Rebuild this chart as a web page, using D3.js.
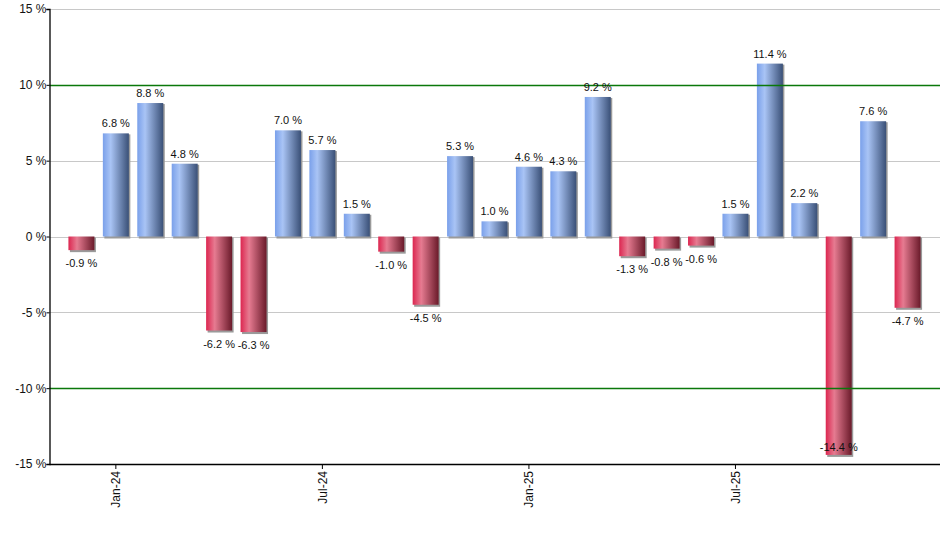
<!DOCTYPE html>
<html>
<head>
<meta charset="utf-8">
<script src="https://cdn.jsdelivr.net/npm/d3@7"></script>
<style>
  body { margin: 0; background: #fff; }
  svg { display: block; font-family: "Liberation Sans", Arial, sans-serif; }
</style>
</head>
<body>
<svg width="940" height="550"></svg>
<script>
// monthly returns, Dec-23 .. Dec-25
const months = ["Dec-23","Jan-24","Feb-24","Mar-24","Apr-24","May-24","Jun-24","Jul-24","Aug-24","Sep-24","Oct-24","Nov-24","Dec-24",
                "Jan-25","Feb-25","Mar-25","Apr-25","May-25","Jun-25","Jul-25","Aug-25","Sep-25","Oct-25","Nov-25","Dec-25"];
const returns = [-0.9, 6.8, 8.8, 4.8, -6.2, -6.3, 7.0, 5.7, 1.5, -1.0, -4.5, 5.3, 1.0,
                 4.6, 4.3, 9.2, -1.3, -0.8, -0.6, 1.5, 11.4, 2.2, -14.4, 7.6, -4.7];
const tickMonths = ["Jan-24", "Jul-24", "Jan-25", "Jul-25"];
const yTicks = [-15, -10, -5, 0, 5, 10, 15];
const refLines = [10, -10];

const data = months.map((m, i) => ({month: m, value: returns[i]}));

const plotLeft = 49.5, plotRight = 940, plotTop = 9, plotBottom = 464;

const svg = d3.select("svg");

const defs = svg.append("defs");
const posGrad = defs.append("linearGradient").attr("id", "gradPos")
posGrad.append("stop").attr("offset", "0%").attr("stop-color", "#7aa0ea")
posGrad.append("stop").attr("offset", "30%").attr("stop-color", "#a9c4f5")
posGrad.append("stop").attr("offset", "100%").attr("stop-color", "#3a5077")
const negGrad = defs.append("linearGradient").attr("id", "gradNeg")
negGrad.append("stop").attr("offset", "0%").attr("stop-color", "#dc2650")
negGrad.append("stop").attr("offset", "33%").attr("stop-color", "#e67b91")
negGrad.append("stop").attr("offset", "100%").attr("stop-color", "#6a1a2a")

const x = d3.scaleBand()
  .domain(months)
  .range([64.3, 924.7])
  .paddingInner(0.245)
  .paddingOuter(0.12)

const y = d3.scaleLinear()
  .domain([-15, 15])
  .range([plotBottom, plotTop])

// grid lines
svg.append("g")
  .selectAll("line")
  .data(yTicks.filter(d => !refLines.includes(d) && d !== -15))
  .join("line")
  .attr("x1", plotLeft).attr("x2", plotRight)
  .attr("y1", d => Math.round(y(d)) + 0.5).attr("y2", d => Math.round(y(d)) + 0.5)
  .attr("stroke", "#c8c8c8")
  .attr("stroke-width", 1)

// bar shadows
svg.append("g")
  .selectAll("rect")
  .data(data)
  .join("rect")
  .attr("x", d => x(d.month) + 1.5)
  .attr("y", d => Math.min(y(d.value), y(0)) + 1)
  .attr("width", x.bandwidth())
  .attr("height", d => Math.abs(y(d.value) - y(0)) + 1)
  .attr("fill", "#9a9a9a")

// bars
svg.append("g")
  .selectAll("rect")
  .data(data)
  .join("rect")
  .attr("x", d => x(d.month))
  .attr("y", d => Math.min(y(d.value), y(0)))
  .attr("width", x.bandwidth())
  .attr("height", d => Math.abs(y(d.value) - y(0)))
  .attr("fill", d => d.value >= 0 ? "url(#gradPos)" : "url(#gradNeg)")

// reference lines at +/-10
svg.append("g")
  .selectAll("line")
  .data(refLines)
  .join("line")
  .attr("x1", plotLeft).attr("x2", plotRight)
  .attr("y1", d => Math.round(y(d)) + 0.5).attr("y2", d => Math.round(y(d)) + 0.5)
  .attr("stroke", "#0a780a")
  .attr("stroke-width", 1.3)

// value labels
svg.append("g")
  .selectAll("text")
  .data(data)
  .join("text")
  .attr("x", d => x(d.month) + x.bandwidth() / 2)
  .attr("y", d => d.value >= 0 ? y(d.value) - 6 : Math.min(y(d.value) + 17, plotBottom - 13))
  .attr("text-anchor", "middle")
  .attr("font-size", "11px")
  .attr("fill", "#111")
  .text(d => d.value.toFixed(1) + " %")

// y axis
const yAxis = svg.append("g")
  .attr("transform", `translate(${plotLeft},0)`)
  .call(d3.axisLeft(y).tickValues(yTicks).tickSize(3).tickFormat(d => d + " %"))
yAxis.select(".domain").attr("stroke", "#000").attr("stroke-width", 1.3)
yAxis.selectAll(".tick line").attr("stroke", "#000")
yAxis.selectAll("text").attr("font-size", "12px").attr("fill", "#111")
  .attr("font-family", "Liberation Sans, Arial, sans-serif").attr("x", -3)

// x axis
const xAxis = svg.append("g")
  .attr("transform", `translate(0,${plotBottom})`)
  .call(d3.axisBottom(x).tickValues(tickMonths).tickSize(5).tickSizeOuter(0))
xAxis.select(".domain").attr("stroke", "#000").attr("stroke-width", 1.3)
  .attr("d", `M${plotLeft},0.5H${plotRight}`)
xAxis.selectAll(".tick line").attr("stroke", "#000")
xAxis.selectAll("text")
  .attr("font-size", "12px").attr("fill", "#111")
  .attr("font-family", "Liberation Sans, Arial, sans-serif")
  .attr("transform", "rotate(-90)")
  .attr("text-anchor", "end")
  .attr("x", -7)
  .attr("y", 0)
  .attr("dy", "0.35em")
</script>
</body>
</html>
